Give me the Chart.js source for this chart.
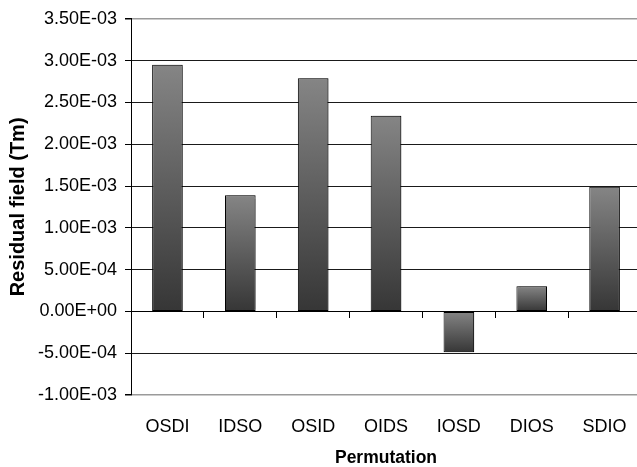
<!DOCTYPE html>
<html>
<head>
<meta charset="utf-8">
<script src="https://cdn.jsdelivr.net/npm/chart.js@4/dist/chart.umd.min.js"></script>
<style>
  html, body { margin: 0; padding: 0; background: #fff; overflow: hidden; }
  #wrap { width: 645px; height: 467px; }
</style>
</head>
<body>
<div id="wrap"><canvas id="chart" width="645" height="467"></canvas></div>
<script>
// Permutation order vs. residual field
const categories = ['OSDI', 'IDSO', 'OSID', 'OIDS', 'IOSD', 'DIOS', 'SDIO'];
const residualField = [2.95e-3, 1.39e-3, 2.79e-3, 2.34e-3, -4.9e-4, 3.0e-4, 1.49e-3];
const yRange = [-1.0e-3, 3.5e-3];
const yStep = 5.0e-4;

// Excel-style scientific label, e.g. 3.50E-03 / 0.00E+00
function sci(v) {
  if (Math.abs(v) < 1e-12) return '0.00E+00';
  const s = v.toExponential(2).toUpperCase();
  const [m, e] = s.split('E');
  const sign = e[0] === '-' ? '-' : '+';
  const digits = e.replace(/[+-]/, '').padStart(2, '0');
  return m + 'E' + sign + digits;
}

Chart.defaults.font.family = '"Liberation Sans", Arial, sans-serif';
Chart.defaults.color = '#000';

// light drop shadow behind the bars
const barShadow = {
  id: 'barShadow',
  beforeDatasetsDraw(chart) {
    const c = chart.ctx;
    c.save();
    c.shadowColor = 'rgba(0,0,0,0.3)';
    c.shadowOffsetX = 2;
    c.shadowOffsetY = 0;
    c.shadowBlur = 1;
  },
  afterDatasetsDraw(chart) { chart.ctx.restore(); }
};

function barGradient(context) {
  const chart = context.chart;
  const area = chart.chartArea;
  const y = chart.scales.y;
  if (!area || !y) return '#5a5a5a';
  const v = context.raw;
  const top = y.getPixelForValue(Math.max(v, 0));
  const bottom = y.getPixelForValue(Math.min(v, 0));
  const g = chart.ctx.createLinearGradient(0, top, 0, bottom);
  g.addColorStop(0, '#858585');
  g.addColorStop(1, '#363636');
  return g;
}

const isEdge = (ctx) => ctx.tick && (Math.abs(ctx.tick.value - yRange[1]) < 1e-9 || Math.abs(ctx.tick.value - yRange[0]) < 1e-9);

new Chart(document.getElementById('chart'), {
  type: 'bar',
  data: {
    labels: categories,
    datasets: [{
      data: residualField,
      backgroundColor: barGradient,
      borderColor: '#000',
      borderWidth: 1,
      borderSkipped: false,
      barPercentage: 0.42,
      categoryPercentage: 1.0,
      xAxisID: 'x',
      yAxisID: 'y'
    }]
  },
  options: {
    responsive: false,
    animation: false,
    layout: { padding: { top: 14, right: 4, left: 0, bottom: 0 } },
    plugins: { legend: { display: false }, tooltip: { enabled: false } },
    scales: {
      y: {
        min: yRange[0],
        max: yRange[1],
        afterFit(scale) { scale.width = 131; },
        ticks: {
          stepSize: yStep,
          padding: 8,
          font: { size: 18 },
          color: '#000',
          callback: (v) => sci(v)
        },
        grid: {
          color: (ctx) => isEdge(ctx) ? '#9a9a9a' : '#1a1a1a',
          lineWidth: (ctx) => isEdge(ctx) ? 1.5 : 1,
          tickColor: '#000',
          tickLength: 6
        },
        border: { display: true, color: '#000', width: 1 },
        title: {
          display: true,
          text: 'Residual field (Tm)',
          font: { size: 20, weight: 'bold', lineHeight: 1 },
          padding: { top: 8, bottom: 0 },
          color: '#000'
        }
      },
      x: {
        position: 'bottom',
        afterFit(scale) { scale.height = 72; },
        grid: { display: false },
        border: { display: false },
        ticks: { padding: 13, font: { size: 18 }, color: '#000', maxRotation: 0 },
        title: {
          display: true,
          text: 'Permutation',
          font: { size: 17.5, weight: 'bold', lineHeight: 1 },
          padding: { top: 12, bottom: 0 },
          color: '#000'
        }
      },
      xZero: {
        type: 'category',
        axis: 'x',
        position: { y: 0 },
        grid: { drawOnChartArea: false, offset: true, tickLength: 6, tickColor: '#000', color: '#000' },
        border: { display: true, color: '#000', width: 1 },
        ticks: { display: false }
      }
    }
  },
  plugins: [barShadow]
});
</script>
</body>
</html>
